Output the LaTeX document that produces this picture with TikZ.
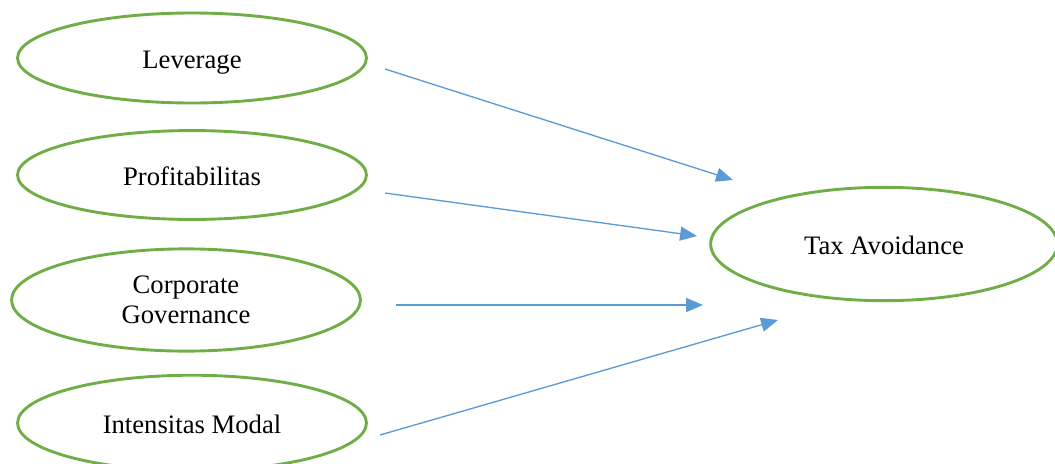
\documentclass[tikz,border=0pt]{standalone}
\usepackage{fontspec}
\setmainfont{Liberation Serif}
\usetikzlibrary{shapes.geometric,arrows.meta}
\definecolor{vargreen}{RGB}{112,173,71}
\definecolor{arrblue}{RGB}{91,155,213}
\tikzset{
	var/.style={ellipse,draw=vargreen,line width=1.3pt,inner sep=0pt,align=center,font=\fontsize{12}{13.5}\selectfont},
	oneline/.style={var,text height=10pt,text depth=1pt},
	link/.style={draw=arrblue,line width=0.6pt,-{Triangle[length=7.6pt,width=6.3pt]}}
}
\begin{document}
\begin{tikzpicture}[x=0.45pt,y=-0.45pt]
	\useasboundingbox (0,0) rectangle (1055,463);
	\node[oneline,minimum width=157pt,minimum height=40.5pt] (lev) at (192,58) {Leverage};
	\node[oneline,minimum width=157pt,minimum height=40pt] (prof) at (192,175) {Profitabilitas};
	\node[var,minimum width=157pt,minimum height=46pt] (cg) at (186,300) {Corporate\\Governance};
	\node[oneline,minimum width=157pt,minimum height=43pt] (im) at (192,423) {Intensitas Modal};
	\node[oneline,minimum width=156pt,minimum height=51pt] (tax) at (884,244) {Tax Avoidance};
	% ends of the arrows, off the ellipses
	\coordinate (lev1) at (385,69);	\coordinate (lev2) at (733,180);
	\coordinate (prof1) at (385,193); \coordinate (prof2) at (697,236);
	\coordinate (cg1) at (396,305); \coordinate (cg2) at (703,305);
	\coordinate (im1) at (380,435); \coordinate (im2) at (778,320);
	\draw[link] (lev1) -- (lev2);
	\draw[link] (prof1) -- (prof2);
	\draw[link] (cg1) -- (cg2);
	\draw[link] (im1) -- (im2);
\end{tikzpicture}
\end{document}
